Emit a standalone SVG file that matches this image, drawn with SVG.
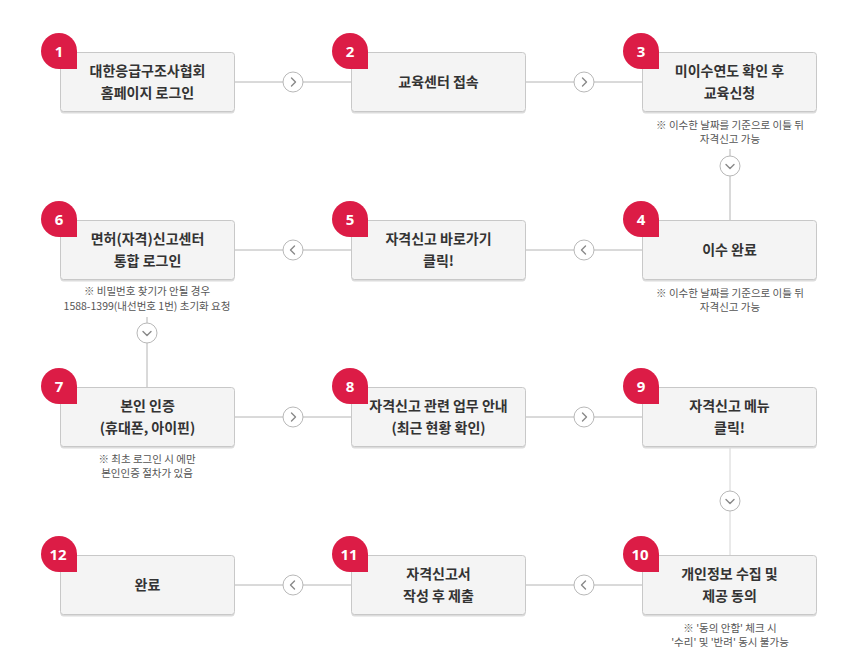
<svg xmlns="http://www.w3.org/2000/svg" width="864" height="668" viewBox="0 0 864 668">
<style>
.box{fill:#f4f4f4;stroke:#c8c8c8;stroke-width:1}
.shd{fill:#dcdcdc}
.badge{fill:#dc1c46}
.num{font-family:"Noto Sans","Noto Sans CJK KR",sans-serif;font-weight:700;font-size:15px;fill:#fff;text-anchor:middle}
.t{font-family:"Noto Sans CJK KR","Noto Sans",sans-serif;font-weight:700;font-size:14px;fill:#333;text-anchor:middle}
.n{font-family:"Noto Sans CJK KR","Noto Sans",sans-serif;font-size:10.5px;fill:#555;text-anchor:middle}
.ln{stroke:#b4b4b4;stroke-width:1;fill:none}
.ln2{stroke:#d4d4d4;stroke-width:1;fill:none}
.cir{fill:#fff;stroke:#b8b8b8;stroke-width:1}
.chev{fill:none;stroke:#888;stroke-width:1.4;stroke-linecap:round;stroke-linejoin:round}
</style>
<defs>
<path id="bdg" d="M-18,0 A18,18 0 0 1 0,-18 A18,18 0 0 1 18,0 L18,18 L0,18 A18,18 0 0 1 -18,0 Z" class="badge"/>
<g id="cr"><circle r="10" class="cir"/><path d="M-1.5,-4 L2.5,0 L-1.5,4" class="chev"/></g>
<g id="cl"><circle r="10" class="cir"/><path d="M1.5,-4 L-2.5,0 L1.5,4" class="chev"/></g>
<g id="cd"><circle r="10" class="cir"/><path d="M-4,-1.5 L0,2.5 L4,-1.5" class="chev"/></g>
</defs>
<rect width="864" height="668" fill="#fff"/>
<g id="connectors">
<line x1="235" y1="82" x2="351" y2="82" class="ln"/><use href="#cr" x="293" y="82"/>
<line x1="526" y1="82" x2="642" y2="82" class="ln"/><use href="#cr" x="584" y="82"/>
<line x1="730" y1="149" x2="730" y2="220" class="ln"/><use href="#cd" x="730" y="166"/>
<line x1="235" y1="250" x2="351" y2="250" class="ln"/><use href="#cl" x="293" y="250"/>
<line x1="526" y1="250" x2="642" y2="250" class="ln"/><use href="#cl" x="584" y="250"/>
<line x1="147" y1="317" x2="147" y2="387" class="ln"/><use href="#cd" x="147" y="333"/>
<line x1="235" y1="417" x2="351" y2="417" class="ln"/><use href="#cr" x="293" y="417"/>
<line x1="526" y1="417" x2="642" y2="417" class="ln"/><use href="#cr" x="584" y="417"/>
<line x1="730" y1="447" x2="730" y2="555" class="ln2"/><use href="#cd" x="730" y="501"/>
<line x1="235" y1="585" x2="351" y2="585" class="ln"/><use href="#cl" x="293" y="585"/>
<line x1="526" y1="585" x2="642" y2="585" class="ln"/><use href="#cl" x="584" y="585"/>
</g>
<g id="node1"><rect x="60.5" y="53.5" width="174" height="60" rx="3" class="shd"/><rect x="60.5" y="52.5" width="174" height="59" rx="3" class="box"/><use href="#bdg" x="59" y="51"/><text x="59" y="56.5" class="num">1</text><text x="147.5" y="76" class="t">대한응급구조사협회</text><text x="147.5" y="98" class="t">홈페이지 로그인</text></g>
<g id="node2"><rect x="351.5" y="53.5" width="174" height="60" rx="3" class="shd"/><rect x="351.5" y="52.5" width="174" height="59" rx="3" class="box"/><use href="#bdg" x="350" y="51"/><text x="350" y="56.5" class="num">2</text><text x="438.5" y="87" class="t">교육센터 접속</text></g>
<g id="node3"><rect x="642.5" y="53.5" width="174" height="60" rx="3" class="shd"/><rect x="642.5" y="52.5" width="174" height="59" rx="3" class="box"/><use href="#bdg" x="641" y="51"/><text x="641" y="56.5" class="num">3</text><text x="729.5" y="76" class="t">미이수연도 확인 후</text><text x="729.5" y="98" class="t">교육신청</text><text x="730" y="129" class="n">※ 이수한 날짜를 기준으로 이틀 뒤</text><text x="730" y="143" class="n">자격신고 가능</text></g>
<g id="node4"><rect x="642.5" y="221.5" width="174" height="60" rx="3" class="shd"/><rect x="642.5" y="220.5" width="174" height="59" rx="3" class="box"/><use href="#bdg" x="641" y="219"/><text x="641" y="224.5" class="num">4</text><text x="729.5" y="255" class="t">이수 완료</text><text x="730" y="297" class="n">※ 이수한 날짜를 기준으로 이틀 뒤</text><text x="730" y="311" class="n">자격신고 가능</text></g>
<g id="node5"><rect x="351.5" y="221.5" width="174" height="60" rx="3" class="shd"/><rect x="351.5" y="220.5" width="174" height="59" rx="3" class="box"/><use href="#bdg" x="350" y="219"/><text x="350" y="224.5" class="num">5</text><text x="438.5" y="244" class="t">자격신고 바로가기</text><text x="438.5" y="266" class="t">클릭!</text></g>
<g id="node6"><rect x="60.5" y="221.5" width="174" height="60" rx="3" class="shd"/><rect x="60.5" y="220.5" width="174" height="59" rx="3" class="box"/><use href="#bdg" x="59" y="219"/><text x="59" y="224.5" class="num">6</text><text x="147.5" y="244" class="t">면허(자격)신고센터</text><text x="147.5" y="266" class="t">통합 로그인</text><text x="147" y="295" class="n">※ 비밀번호 찾기가 안될 경우</text><text x="147" y="309.5" class="n">1588-1399(내선번호 1번) 초기화 요청</text></g>
<g id="node7"><rect x="60.5" y="388.5" width="174" height="60" rx="3" class="shd"/><rect x="60.5" y="387.5" width="174" height="59" rx="3" class="box"/><use href="#bdg" x="59" y="386"/><text x="59" y="391.5" class="num">7</text><text x="147.5" y="411" class="t">본인 인증</text><text x="147.5" y="433" class="t">(휴대폰, 아이핀)</text><text x="147" y="463" class="n">※ 최초 로그인 시 에만</text><text x="147" y="477" class="n">본인인증 절차가 있음</text></g>
<g id="node8"><rect x="351.5" y="388.5" width="174" height="60" rx="3" class="shd"/><rect x="351.5" y="387.5" width="174" height="59" rx="3" class="box"/><use href="#bdg" x="350" y="386"/><text x="350" y="391.5" class="num">8</text><text x="438.5" y="411" class="t">자격신고 관련 업무 안내</text><text x="438.5" y="433" class="t">(최근 현황 확인)</text></g>
<g id="node9"><rect x="642.5" y="388.5" width="174" height="60" rx="3" class="shd"/><rect x="642.5" y="387.5" width="174" height="59" rx="3" class="box"/><use href="#bdg" x="641" y="386"/><text x="641" y="391.5" class="num">9</text><text x="729.5" y="411" class="t">자격신고 메뉴</text><text x="729.5" y="433" class="t">클릭!</text></g>
<g id="node10"><rect x="642.5" y="556.5" width="174" height="60" rx="3" class="shd"/><rect x="642.5" y="555.5" width="174" height="59" rx="3" class="box"/><use href="#bdg" x="641" y="554"/><text x="640" y="559.5" class="num">10</text><text x="729.5" y="579" class="t">개인정보 수집 및</text><text x="729.5" y="601" class="t">제공 동의</text><text x="730" y="632" class="n">※ '동의 안함' 체크 시</text><text x="730" y="646" class="n">'수리' 및 '반려' 동시 불가능</text></g>
<g id="node11"><rect x="351.5" y="556.5" width="174" height="60" rx="3" class="shd"/><rect x="351.5" y="555.5" width="174" height="59" rx="3" class="box"/><use href="#bdg" x="350" y="554"/><text x="349" y="559.5" class="num">11</text><text x="438.5" y="579" class="t">자격신고서</text><text x="438.5" y="601" class="t">작성 후 제출</text></g>
<g id="node12"><rect x="60.5" y="556.5" width="174" height="60" rx="3" class="shd"/><rect x="60.5" y="555.5" width="174" height="59" rx="3" class="box"/><use href="#bdg" x="59" y="554"/><text x="58" y="559.5" class="num">12</text><text x="147.5" y="590" class="t">완료</text></g>
</svg>
